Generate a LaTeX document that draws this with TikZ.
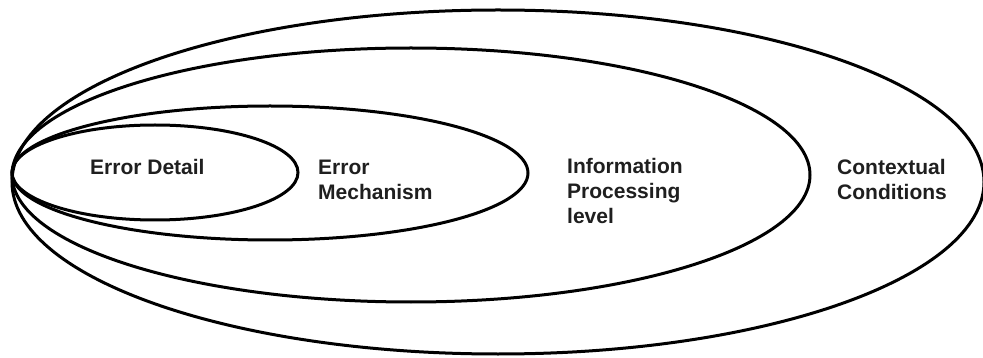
\documentclass[tikz,border=0pt]{standalone}
\usepackage{fontspec}
\setmainfont{Liberation Sans}
\usetikzlibrary{shapes.geometric}
\begin{document}
\begin{tikzpicture}[x=1pt,y=-1pt,
  ring/.style={draw=black, ellipse, line width=3pt, inner sep=0pt},
  label/.style={anchor=north west, inner sep=0pt, align=left, text=black!88,
    font=\fontsize{21}{25}\selectfont\bfseries}]
  \useasboundingbox[fill=white] (0,0) rectangle (983,358);
  % nested scopes, all touching at the left
  \node[ring, minimum width=972pt, minimum height=344pt] (context) at (498,182) {};
  \node[ring, minimum width=798pt, minimum height=254pt] (info) at (411,175) {};
  \node[ring, minimum width=516pt, minimum height=134pt] (mech) at (270,173) {};
  \node[ring, minimum width=286pt, minimum height=95pt] (detail) at (155,172.5) {};
  % labels
  \node[label] (tdetail) at (90,159.5) {Error Detail};
  \node[label] (tmech) at (318,159.5) {Error\\Mechanism};
  \node[label] (tinfo) at (567,158.5) {Information\\Processing\\level};
  \node[label] (tcontext) at (837,159.5) {Contextual\\Conditions};
\end{tikzpicture}
\end{document}
